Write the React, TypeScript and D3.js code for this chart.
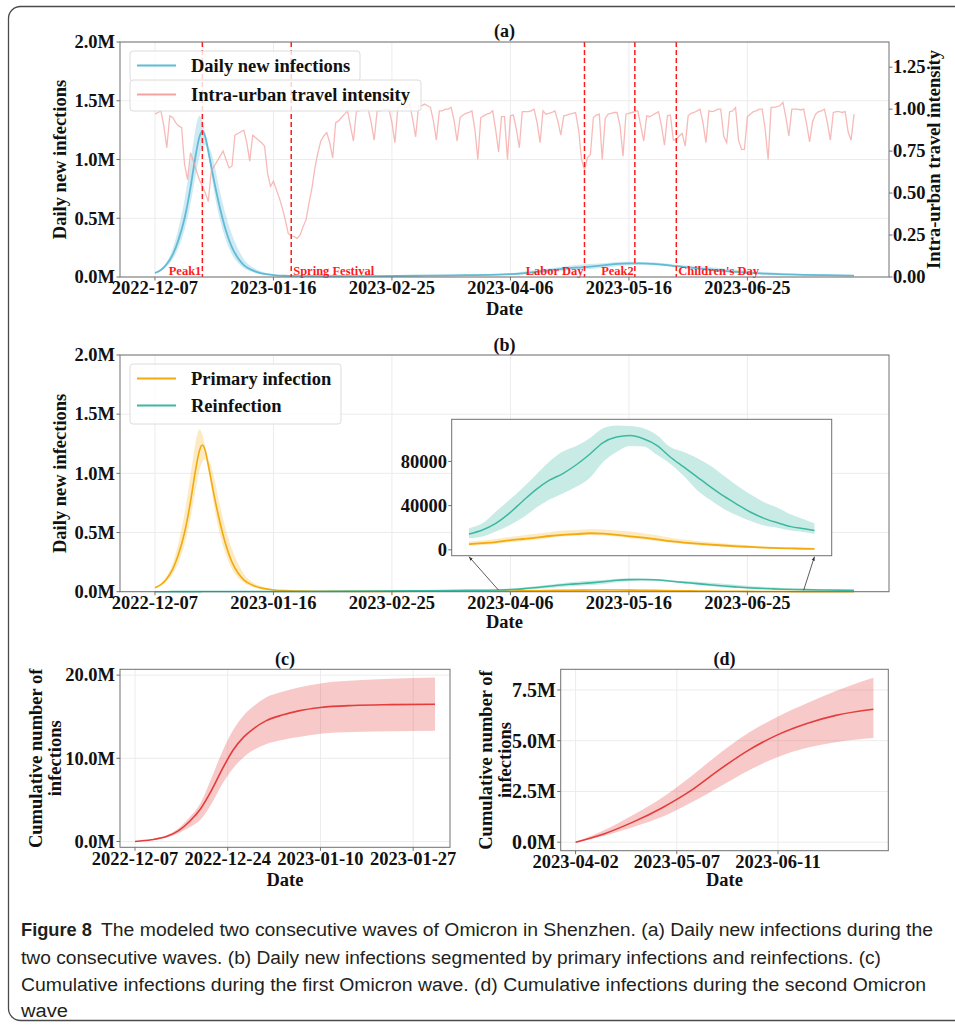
import React from 'react';
import * as d3 from 'd3';

const parseDay = d3.timeParse('%Y-%m-%d') as (s: string) => Date;
const fmtM = (v: number) => `${(v / 1e6).toFixed(1)}M`;

// ---------------- data ----------------
const waveTicks = ['2022-12-07', '2023-01-16', '2023-02-25', '2023-04-06', '2023-05-16', '2023-06-25'];
const firstWaveTicks = ['2022-12-07', '2022-12-24', '2023-01-10', '2023-01-27'];
const secondWaveTicks = ['2023-04-02', '2023-05-07', '2023-06-11'];
const dailyTicks = [0, 0.5e6, 1.0e6, 1.5e6, 2.0e6];
const travelTicks = [0, 0.25, 0.5, 0.75, 1.0, 1.25];
const insetTicks = [0, 40000, 80000];
const cum1Ticks = [0, 10e6, 20e6];
const cum2Ticks = [0, 2.5e6, 5e6, 7.5e6];

const eventNames = ['Peak1', 'Spring Festival', 'Labor Day', 'Peak2', "Children's Day"];
const eventDates = ['2022-12-23', '2023-01-22', '2023-05-01', '2023-05-18', '2023-06-01'];

// intra-urban travel intensity, one value per day from 2022-12-07 (Wed)
const travelStart = '2022-12-07';
const travelIntensity = [
  0.97, 0.98, 0.99, 0.90, 0.77,
  0.96, 0.95, 0.92, 0.90, 0.89, 0.67, 0.58,
  0.74, 0.69, 0.63, 0.58, 0.54, 0.50, 0.45,
  0.63, 0.66, 0.69, 0.72, 0.75, 0.70, 0.65,
  0.66, 0.845, 0.855, 0.865, 0.875, 0.80, 0.69,
  0.845, 0.83, 0.815, 0.80, 0.78, 0.62, 0.54,
  0.57, 0.52, 0.47, 0.41, 0.34, 0.26, 0.245,
  0.24, 0.23, 0.25, 0.30, 0.34, 0.44, 0.53,
  0.65, 0.74, 0.81, 0.84, 0.86, 0.80, 0.71,
  0.92, 0.93, 0.95, 0.97, 0.99, 0.90, 0.81,
  0.99, 0.99, 1.00, 1.00, 1.00, 0.92, 0.815,
  0.99, 0.99, 0.995, 1.00, 1.00, 0.92, 0.80,
  1.01, 1.02, 1.02, 1.01, 1.03, 0.94, 0.835,
  1.02, 1.02, 1.03, 1.02, 1.01, 0.93, 0.815,
  0.99, 0.99, 1.00, 1.00, 1.01, 0.93, 0.81,
  0.95, 0.965, 0.975, 0.98, 0.99, 0.88, 0.70,
  0.95, 0.96, 0.97, 0.975, 0.99, 0.88, 0.745,
  0.955, 0.955, 0.70, 0.96, 0.965, 0.88, 0.77,
  0.985, 0.985, 0.985, 0.99, 1.00, 0.92, 0.80,
  0.99, 0.97, 0.975, 0.98, 0.99, 0.93, 0.845,
  0.96, 0.965, 0.97, 0.975, 0.98, 0.88, 0.70,
  0.64, 0.71, 0.73, 0.95, 0.965, 0.97, 0.70,
  0.945, 0.97, 0.975, 0.98, 0.98, 0.90, 0.72,
  0.97, 0.975, 0.98, 0.985, 0.99, 0.90, 0.81,
  0.96, 0.955, 0.965, 0.975, 0.985, 0.90, 0.785,
  0.96, 0.965, 0.815, 0.82, 0.84, 0.855, 0.78,
  0.96, 0.975, 0.98, 0.99, 1.00, 0.92, 0.80,
  0.99, 0.985, 0.99, 1.00, 1.00, 0.84, 0.80,
  0.985, 0.99, 1.01, 0.815, 0.76, 0.76, 0.955,
  0.97, 0.985, 0.99, 1.00, 1.00, 0.88, 0.70,
  1.01, 1.01, 1.015, 1.02, 1.04, 0.95, 0.84,
  1.00, 1.00, 1.00, 0.995, 1.00, 0.91, 0.805,
  0.925, 0.97, 0.985, 0.99, 1.00, 0.92, 0.815,
  0.98, 0.985, 0.985, 0.98, 0.985, 0.865, 0.815,
  0.97,
];

const dailyDates = [
  '2022-12-07', '2022-12-09', '2022-12-11', '2022-12-13', '2022-12-15', '2022-12-17', '2022-12-19', '2022-12-20',
  '2022-12-21', '2022-12-22', '2022-12-23', '2022-12-24', '2022-12-25', '2022-12-26', '2022-12-27', '2022-12-29',
  '2022-12-31', '2023-01-02', '2023-01-04', '2023-01-06', '2023-01-09', '2023-01-12', '2023-01-16', '2023-01-21',
  '2023-01-26', '2023-02-05', '2023-02-20', '2023-03-07', '2023-03-22', '2023-04-02', '2023-04-06', '2023-04-10',
  '2023-04-14', '2023-04-18', '2023-04-22', '2023-04-26', '2023-04-30', '2023-05-04', '2023-05-08', '2023-05-12',
  '2023-05-16', '2023-05-20', '2023-05-24', '2023-05-28', '2023-06-01', '2023-06-05', '2023-06-09', '2023-06-13',
  '2023-06-17', '2023-06-21', '2023-06-25', '2023-06-29', '2023-07-03', '2023-07-07', '2023-07-11', '2023-07-14',
  '2023-07-21', '2023-07-31',
];
const primaryMean = [
  34000, 60000, 110000, 190000, 320000, 500000, 760000, 920000,
  1070000, 1190000, 1240000, 1190000, 1070000, 940000, 810000, 580000,
  390000, 250000, 160000, 100000, 55000, 30000, 15000, 8000,
  5000, 3500, 3000, 3500, 4300, 5100, 6000, 7000,
  8600, 9800, 11000, 12500, 13600, 14200, 15000, 14600,
  13600, 12200, 11000, 9500, 7800, 6600, 5600, 4700,
  3900, 3200, 2600, 2000, 1600, 1300, 1000, 900,
  700, 500,
];
const primaryLow = [
  30000, 50000, 90000, 150000, 250000, 400000, 620000, 760000,
  900000, 1020000, 1100000, 1120000, 1040000, 880000, 720000, 480000,
  310000, 190000, 120000, 75000, 40000, 20000, 10000, 5000,
  3000, 2500, 2200, 2600, 3100, 3600, 4300, 5300,
  6800, 8000, 9200, 10800, 12000, 12700, 13500, 13000,
  12000, 10500, 9300, 8000, 6300, 5200, 4200, 3300,
  2700, 2100, 1700, 1300, 1000, 700, 500, 300,
  250, 200,
];
const primaryHigh = [
  40000, 70000, 130000, 240000, 420000, 660000, 980000, 1150000,
  1300000, 1370000, 1330000, 1220000, 1120000, 1060000, 960000, 720000,
  520000, 360000, 240000, 150000, 80000, 45000, 22000, 12000,
  8000, 5000, 4200, 4800, 6000, 7500, 8500, 9800,
  11500, 13000, 14500, 16000, 17400, 18000, 18600, 18300,
  17500, 16500, 15000, 13200, 11000, 9400, 8000, 6800,
  5800, 4800, 3900, 3100, 2500, 2000, 1600, 1500,
  1200, 900,
];
const reinfMean = [
  100, 150, 200, 300, 400, 500, 700, 800,
  900, 1000, 1100, 1200, 1300, 1350, 1400, 1450,
  1500, 1500, 1500, 1500, 1500, 1600, 1700, 1900,
  2200, 3000, 4800, 7500, 11000, 14400, 18000, 24000,
  33000, 44000, 54500, 63000, 69000, 77000, 86500, 97000,
  102000, 103400, 100500, 94500, 84000, 75000, 66000, 57000,
  48500, 41000, 34000, 28500, 24500, 21000, 19000, 17400,
  14500, 11000,
];
const reinfLow = [
  50, 80, 120, 180, 250, 320, 450, 520,
  600, 650, 700, 780, 850, 880, 900, 950,
  1000, 1000, 1000, 1000, 1000, 1100, 1200, 1300,
  1500, 2000, 3300, 5200, 7800, 10500, 12000, 16500,
  22000, 29000, 38000, 45500, 51000, 57000, 65000, 79500,
  88500, 94000, 93500, 86000, 78000, 67000, 54000, 45000,
  37000, 31000, 26000, 22000, 20000, 17500, 16000, 14400,
  12000, 9000,
];
const reinfHigh = [
  150, 220, 300, 420, 560, 700, 950, 1080,
  1200, 1350, 1500, 1600, 1750, 1800, 1900, 1950,
  2000, 2000, 2000, 2000, 2000, 2100, 2300, 2600,
  3000, 4200, 6600, 10500, 15500, 19500, 24000, 34500,
  45000, 56000, 68000, 80000, 89000, 94000, 101000, 110000,
  112500, 112000, 110000, 104000, 93000, 88500, 83000, 76000,
  67000, 58000, 50000, 43000, 38000, 32000, 27500, 24000,
  20000, 15000,
];
const insetStart = '2023-04-02';
const insetEnd = '2023-07-14';

const cum1Dates = [
  '2022-12-07', '2022-12-10', '2022-12-13', '2022-12-15', '2022-12-17', '2022-12-19', '2022-12-21', '2022-12-23',
  '2022-12-25', '2022-12-27', '2022-12-29', '2022-12-31', '2023-01-03', '2023-01-06', '2023-01-10', '2023-01-16',
  '2023-01-23', '2023-01-31',
];
const cum1Mean = [0, 0.2e6, 0.65e6, 1.3e6, 2.4e6, 3.9e6, 6.1e6, 8.7e6, 11.0e6, 12.6e6, 13.7e6, 14.5e6, 15.2e6, 15.7e6, 16.1e6, 16.35e6, 16.45e6, 16.5e6];
const cum1Low = [0, 0.15e6, 0.5e6, 1.0e6, 1.7e6, 2.6e6, 4.5e6, 6.9e6, 8.8e6, 10.2e6, 11.1e6, 11.7e6, 12.2e6, 12.55e6, 12.95e6, 13.15e6, 13.25e6, 13.3e6];
const cum1High = [0, 0.25e6, 0.8e6, 1.6e6, 2.9e6, 4.6e6, 7.6e6, 10.8e6, 13.4e6, 15.2e6, 16.4e6, 17.3e6, 18.0e6, 18.5e6, 19.0e6, 19.35e6, 19.55e6, 19.7e6];

const cum2Dates = ['2023-04-02', '2023-04-12', '2023-04-22', '2023-05-02', '2023-05-12', '2023-05-22', '2023-06-01', '2023-06-11', '2023-06-21', '2023-07-01', '2023-07-14'];
const cum2Mean = [0, 0.42e6, 1.0e6, 1.7e6, 2.55e6, 3.6e6, 4.55e6, 5.3e6, 5.85e6, 6.25e6, 6.55e6];
const cum2Low = [0, 0.32e6, 0.75e6, 1.25e6, 1.95e6, 2.75e6, 3.55e6, 4.2e6, 4.65e6, 4.93e6, 5.13e6];
const cum2High = [0, 0.6e6, 1.35e6, 2.2e6, 3.25e6, 4.4e6, 5.4e6, 6.2e6, 6.85e6, 7.45e6, 8.1e6];

const captionHead = 'Figure 8';
const captionLines = [
  'The modeled two consecutive waves of Omicron in Shenzhen. (a) Daily new infections during the',
  'two consecutive waves. (b) Daily new infections segmented by primary infections and reinfections. (c)',
  'Cumulative infections during the first Omicron wave. (d) Cumulative infections during the second Omicron',
  'wave',
];

// ---------------- styling ----------------
const SERIF = '"Liberation Serif", "Times New Roman", serif';
const SANS = '"Liberation Sans", Arial, sans-serif';
const AXIS = '#707070';
const GRID = '#ececec';
const BLUE = '#5fbbd6';
const ORANGE = '#f2aa0c';
const TEAL = '#3db8a0';
const RED = '#e43c3c';
const PINK = '#f4a3a0';
const bold = { fontFamily: SERIF, fontWeight: 700, fontSize: 18.5, fill: '#111' } as const;

type Box = { left: number; right: number; top: number; bottom: number };

const padDomain = (a: Date, b: Date): [Date, Date] => {
  const pad = 0.05 * (+b - +a);
  return [new Date(+a - pad), new Date(+b + pad)];
};

function Frame({ box, fill }: { box: Box; fill?: string }) {
  return (
    <rect x={box.left} y={box.top} width={box.right - box.left} height={box.bottom - box.top}
      fill={fill ?? 'none'} stroke={AXIS} strokeWidth={1} />
  );
}

function Grid({ box, xs, ys }: { box: Box; xs: number[]; ys: number[] }) {
  return (
    <g stroke={GRID} strokeWidth={1}>
      {xs.map((x, i) => <line key={'x' + i} x1={x} x2={x} y1={box.top} y2={box.bottom} />)}
      {ys.map((y, i) => <line key={'y' + i} x1={box.left} x2={box.right} y1={y} y2={y} />)}
    </g>
  );
}

function XAxis({ box, xs, labels, labelY, title, titleY }: { box: Box; xs: number[]; labels: string[]; labelY: number; title: string; titleY: number }) {
  return (
    <g>
      {xs.map((x, i) => (
        <g key={i}>
          <line x1={x} x2={x} y1={box.bottom} y2={box.bottom + 3.5} stroke={AXIS} />
          <text x={x} y={labelY} textAnchor="middle" style={bold}>{labels[i]}</text>
        </g>
      ))}
      <text x={(box.left + box.right) / 2} y={titleY} textAnchor="middle" style={bold}>{title}</text>
    </g>
  );
}

function YAxis({ box, ys, labels, side, labelX, size }: { box: Box; ys: number[]; labels: string[]; side: 'left' | 'right'; labelX: number; size?: number }) {
  const x0 = side === 'left' ? box.left : box.right;
  const dir = side === 'left' ? -1 : 1;
  return (
    <g>
      {ys.map((y, i) => (
        <g key={i}>
          <line x1={x0} x2={x0 + dir * 3.5} y1={y} y2={y} stroke={AXIS} />
          <text x={labelX} y={y} dy="0.34em" textAnchor={side === 'left' ? 'end' : 'start'}
            style={{ ...bold, fontSize: size ?? 18.5 }}>{labels[i]}</text>
        </g>
      ))}
    </g>
  );
}

function Legend({ x, y, w, h, items }: { x: number; y: number; w: number; h: number; items: { label: string; color: string }[] }) {
  return (
    <g>
      <rect x={x} y={y} width={w} height={h} rx={3} fill="#fff" fillOpacity={0.8} stroke="#dcdcdc" />
      {items.map((it, i) => {
        const cy = y + 14.5 + i * 27;
        return (
          <g key={it.label}>
            <line x1={x + 7} x2={x + 46} y1={cy} y2={cy} stroke={it.color} strokeWidth={2} />
            <text x={x + 61} y={cy} dy="0.33em" style={bold}>{it.label}</text>
          </g>
        );
      })}
    </g>
  );
}

export default function App() {
  const dDates = dailyDates.map(parseDay);
  const tDates = travelIntensity.map((_, i) => d3.timeDay.offset(parseDay(travelStart), i));
  const totalMean = primaryMean.map((v, i) => v + reinfMean[i]);
  const totalLow = primaryLow.map((v, i) => v + reinfLow[i]);
  const totalHigh = primaryHigh.map((v, i) => v + reinfHigh[i]);
  const wTicks = waveTicks.map(parseDay);

  // ---- panel (a)
  const boxA: Box = { left: 120, right: 889, top: 42, bottom: 277 };
  const xWave = d3.scaleTime().domain(padDomain(tDates[0], tDates[tDates.length - 1])).range([boxA.left, boxA.right]);
  const yA = d3.scaleLinear().domain([0, 2e6]).range([boxA.bottom, boxA.top]);
  const yA2 = d3.scaleLinear().domain([0, 1.4]).range([boxA.bottom, boxA.top]);
  const lineOf = (x: (d: Date) => number, y: d3.ScaleLinear<number, number>, dates: Date[]) =>
    d3.line<number>().x((_, i) => x(dates[i])).y(v => y(v)).curve(d3.curveMonotoneX);
  const areaOf = (x: (d: Date) => number, y: d3.ScaleLinear<number, number>, dates: Date[], lo: number[]) =>
    d3.area<number>().x((_, i) => x(dates[i])).y0((_, i) => y(lo[i])).y1(v => y(v)).curve(d3.curveMonotoneX);
  const travelPath = d3.line<number>().x((_, i) => xWave(tDates[i])).y(v => yA2(v))(travelIntensity) ?? '';

  // ---- panel (b)
  const boxB: Box = { left: 120, right: 889, top: 355, bottom: 591.7 };
  const yB = d3.scaleLinear().domain([0, 2e6]).range([boxB.bottom, boxB.top]);

  // inset
  const boxI: Box = { left: 451.7, right: 831.7, top: 419.3, bottom: 555.7 };
  const iS = parseDay(insetStart), iE = parseDay(insetEnd);
  const idx = dDates.map((_, i) => i).filter(i => dDates[i] >= iS && dDates[i] <= iE);
  const sub = (arr: number[]) => idx.map(i => arr[i]);
  const iDates = idx.map(i => dDates[i]);
  const xI = d3.scaleTime().domain(padDomain(iS, iE)).range([boxI.left, boxI.right]);
  const iLo = Math.min(d3.min(sub(primaryLow))!, d3.min(sub(reinfLow))!);
  const iHi = Math.max(d3.max(sub(primaryHigh))!, d3.max(sub(reinfHigh))!);
  const iPad = 0.05 * (iHi - iLo);
  const yI = d3.scaleLinear().domain([iLo - iPad, iHi + iPad]).range([boxI.bottom, boxI.top]);

  // ---- panel (c)
  const boxC: Box = { left: 120, right: 450, top: 669.3, bottom: 847.3 };
  const c1Dates = cum1Dates.map(parseDay);
  const xC = d3.scaleTime().domain(padDomain(c1Dates[0], c1Dates[c1Dates.length - 1])).range([boxC.left, boxC.right]);
  const yC = d3.scaleLinear().domain([-0.7e6, 20.7e6]).range([boxC.bottom, boxC.top]);

  // ---- panel (d)
  const boxD: Box = { left: 560.7, right: 888.3, top: 669.3, bottom: 850.7 };
  const c2Dates = cum2Dates.map(parseDay);
  const xD = d3.scaleTime().domain(padDomain(c2Dates[0], c2Dates[c2Dates.length - 1])).range([boxD.left, boxD.right]);
  const yD = d3.scaleLinear().domain([-0.42e6, 8.52e6]).range([boxD.bottom, boxD.top]);

  const leftLabels = new Set(['Peak1', 'Labor Day', 'Peak2']);
  const capY = [936, 963.5, 990.5, 1016.5];
  const capW = [832, 860, 905, 47];

  return (
    <svg width={955} height={1028} style={{ position: 'absolute', left: 0, top: 0, background: '#fff' }}>
      <defs>
        <marker id="ah" viewBox="0 0 10 10" refX={10} refY={5} markerWidth={5} markerHeight={5} orient="auto">
          <path d="M0,1 L10,5 L0,9 z" fill="#333" />
        </marker>
      </defs>
      <rect x={0} y={0} width={955} height={1028} fill="#fff" />
      <rect x={8.5} y={6.5} width={1000} height={1014} rx={12} fill="none" stroke="#4a4a4a" strokeWidth={1.3} />

      {/* ---------------- (a) ---------------- */}
      <Grid box={boxA} xs={wTicks.map(xWave)} ys={dailyTicks.map(yA)} />
      <path d={areaOf(xWave, yA, dDates, totalLow)(totalHigh) ?? ''} fill={BLUE} fillOpacity={0.3} />
      <path d={lineOf(xWave, yA, dDates)(totalMean) ?? ''} fill="none" stroke={BLUE} strokeWidth={1.8} />
      <path d={travelPath} fill="none" stroke={PINK} strokeWidth={1.3} strokeOpacity={0.75} />
      {eventDates.map((ds, i) => {
        const x = xWave(parseDay(ds));
        const left = leftLabels.has(eventNames[i]);
        return (
          <g key={ds}>
            <line x1={x} x2={x} y1={boxA.top} y2={boxA.bottom} stroke="#ff1a1a" strokeWidth={1.5} strokeDasharray="5,3" />
            <text x={left ? x - 1 : x + 2} y={boxA.bottom - 2} textAnchor={left ? 'end' : 'start'}
              style={{ fontFamily: SERIF, fontWeight: 700, fontSize: 12.5, fill: '#ff1a1a' }}>{eventNames[i]}</text>
          </g>
        );
      })}
      <Frame box={boxA} />
      <YAxis box={boxA} ys={dailyTicks.map(yA)} labels={dailyTicks.map(fmtM)} side="left" labelX={115} />
      <YAxis box={boxA} ys={travelTicks.map(yA2)} labels={travelTicks.map(v => v.toFixed(2))} side="right" labelX={893} />
      <XAxis box={boxA} xs={wTicks.map(xWave)} labels={waveTicks} labelY={294} title="Date" titleY={315} />
      <text transform={`translate(66,${(boxA.top + boxA.bottom) / 2}) rotate(-90)`} textAnchor="middle" style={bold}>Daily new infections</text>
      <text transform={`translate(940,${(boxA.top + boxA.bottom) / 2}) rotate(-90)`} textAnchor="middle" style={bold}>Intra-urban travel intensity</text>
      <text x={(boxA.left + boxA.right) / 2} y={37} textAnchor="middle" style={{ ...bold, fontSize: 18 }}>(a)</text>
      <Legend x={130} y={51} w={230} h={30} items={[{ label: 'Daily new infections', color: BLUE }]} />
      <Legend x={130} y={80} w={291} h={31} items={[{ label: 'Intra-urban travel intensity', color: PINK }]} />

      {/* ---------------- (b) ---------------- */}
      <Grid box={boxB} xs={wTicks.map(xWave)} ys={dailyTicks.map(yB)} />
      <path d={areaOf(xWave, yB, dDates, primaryLow)(primaryHigh) ?? ''} fill={ORANGE} fillOpacity={0.25} />
      <path d={areaOf(xWave, yB, dDates, reinfLow)(reinfHigh) ?? ''} fill={TEAL} fillOpacity={0.28} />
      <path d={lineOf(xWave, yB, dDates)(primaryMean) ?? ''} fill="none" stroke={ORANGE} strokeWidth={1.6} />
      <path d={lineOf(xWave, yB, dDates)(reinfMean) ?? ''} fill="none" stroke={TEAL} strokeWidth={1.6} />
      <Frame box={boxB} />
      <YAxis box={boxB} ys={dailyTicks.map(yB)} labels={dailyTicks.map(fmtM)} side="left" labelX={115} />
      <XAxis box={boxB} xs={wTicks.map(xWave)} labels={waveTicks} labelY={608.7} title="Date" titleY={628} />
      <text transform={`translate(66,${(boxB.top + boxB.bottom) / 2}) rotate(-90)`} textAnchor="middle" style={bold}>Daily new infections</text>
      <text x={(boxB.left + boxB.right) / 2} y={351} textAnchor="middle" style={{ ...bold, fontSize: 18 }}>(b)</text>
      <Legend x={130} y={364} w={211} h={60} items={[{ label: 'Primary infection', color: ORANGE }, { label: 'Reinfection', color: TEAL }]} />

      {/* inset */}
      <Frame box={boxI} fill="#fff" />
      <path d={areaOf(xI, yI, iDates, sub(reinfLow))(sub(reinfHigh)) ?? ''} fill={TEAL} fillOpacity={0.28} />
      <path d={areaOf(xI, yI, iDates, sub(primaryLow))(sub(primaryHigh)) ?? ''} fill={ORANGE} fillOpacity={0.25} />
      <path d={lineOf(xI, yI, iDates)(sub(reinfMean)) ?? ''} fill="none" stroke={TEAL} strokeWidth={1.5} />
      <path d={lineOf(xI, yI, iDates)(sub(primaryMean)) ?? ''} fill="none" stroke={ORANGE} strokeWidth={1.8} />
      <YAxis box={boxI} ys={insetTicks.map(yI)} labels={insetTicks.map(String)} side="left" labelX={447} />
      {[iS, iE].map((d, i) => (
        <line key={i} x1={xWave(d)} y1={yB(0) - 1.5} x2={xI(d)} y2={boxI.bottom + 1}
          stroke="#333" strokeWidth={0.8} markerEnd="url(#ah)" />
      ))}

      {/* ---------------- (c) ---------------- */}
      <Grid box={boxC} xs={firstWaveTicks.map(s => xC(parseDay(s)))} ys={cum1Ticks.map(yC)} />
      <path d={areaOf(xC, yC, c1Dates, cum1Low)(cum1High) ?? ''} fill={RED} fillOpacity={0.28} />
      <path d={lineOf(xC, yC, c1Dates)(cum1Mean) ?? ''} fill="none" stroke={RED} strokeWidth={1.6} />
      <Frame box={boxC} />
      <YAxis box={boxC} ys={cum1Ticks.map(yC)} labels={cum1Ticks.map(fmtM)} side="left" labelX={115} />
      <XAxis box={boxC} xs={firstWaveTicks.map(s => xC(parseDay(s)))} labels={firstWaveTicks} labelY={865} title="Date" titleY={886} />
      <text transform={`translate(41.5,${(boxC.top + boxC.bottom) / 2}) rotate(-90)`} textAnchor="middle" style={bold}>Cumulative number of</text>
      <text transform={`translate(60.5,${(boxC.top + boxC.bottom) / 2}) rotate(-90)`} textAnchor="middle" style={bold}>infections</text>
      <text x={(boxC.left + boxC.right) / 2} y={665} textAnchor="middle" style={{ ...bold, fontSize: 18 }}>(c)</text>

      {/* ---------------- (d) ---------------- */}
      <Grid box={boxD} xs={secondWaveTicks.map(s => xD(parseDay(s)))} ys={cum2Ticks.map(yD)} />
      <path d={areaOf(xD, yD, c2Dates, cum2Low)(cum2High) ?? ''} fill={RED} fillOpacity={0.28} />
      <path d={lineOf(xD, yD, c2Dates)(cum2Mean) ?? ''} fill="none" stroke={RED} strokeWidth={1.6} />
      <Frame box={boxD} />
      <YAxis box={boxD} ys={cum2Ticks.map(yD)} labels={cum2Ticks.map(fmtM)} side="left" labelX={556} size={20} />
      <XAxis box={boxD} xs={secondWaveTicks.map(s => xD(parseDay(s)))} labels={secondWaveTicks} labelY={868} title="Date" titleY={886} />
      <text transform={`translate(492,${(boxD.top + boxD.bottom) / 2}) rotate(-90)`} textAnchor="middle" style={bold}>Cumulative number of</text>
      <text transform={`translate(511,${(boxD.top + boxD.bottom) / 2}) rotate(-90)`} textAnchor="middle" style={bold}>infections</text>
      <text x={(boxD.left + boxD.right) / 2} y={665} textAnchor="middle" style={{ ...bold, fontSize: 18 }}>(d)</text>

      {/* ---------------- caption ---------------- */}
      <g style={{ fontFamily: SANS, fontSize: 18, fill: '#231f20' }}>
        <text x={21} y={capY[0]} fontWeight={700} textLength={71} lengthAdjust="spacingAndGlyphs">{captionHead}</text>
        {captionLines.map((s, i) => (
          <text key={i} x={i === 0 ? 101 : 21} y={capY[i]} textLength={capW[i]} lengthAdjust="spacingAndGlyphs">{s}</text>
        ))}
      </g>
    </svg>
  );
}
